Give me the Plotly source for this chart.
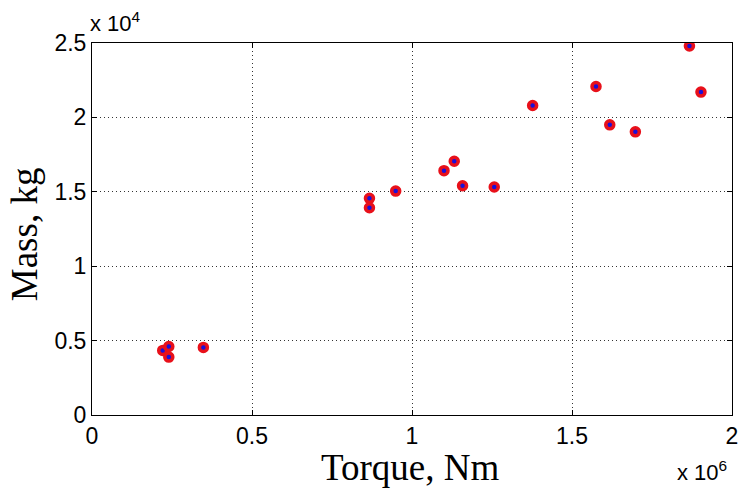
import plotly.graph_objects as go

torque_nm = [0.221e6, 0.240e6, 0.240e6, 0.348e6, 0.867e6, 0.867e6, 0.949e6,
             1.100e6, 1.132e6, 1.158e6, 1.257e6, 1.377e6, 1.575e6, 1.618e6,
             1.698e6, 1.867e6, 1.903e6]
mass_kg = [4340, 4600, 3890, 4540, 14560, 13930, 15050,
           16420, 17050, 15410, 15320, 20800, 22080, 19500,
           19030, 24800, 21700]

x_tickvals = [0, 0.5e6, 1.0e6, 1.5e6, 2.0e6]
x_ticktext = ["0", "0.5", "1", "1.5", "2"]
y_tickvals = [0, 5000, 10000, 15000, 20000, 25000]
y_ticktext = ["0", "0.5", "1", "1.5", "2", "2.5"]

fig = go.Figure()
fig.add_trace(go.Scatter(
    x=torque_nm, y=mass_kg, mode="markers",
    marker=dict(size=8, color="#1a10d8", line=dict(color="#e8101a", width=3.5)),
    showlegend=False,
))

axis_common = dict(
    showline=True, linecolor="black", linewidth=1, mirror="allticks",
    ticks="inside", ticklen=5, tickcolor="black",
    showgrid=True, gridcolor="rgba(30,30,30,0.9)", gridwidth=1, griddash="1px,3px",
    zeroline=False, automargin=False, ticklabeloverflow="allow",
    tickfont=dict(family="Liberation Sans, Arial", size=23, color="black"),
)

fig.update_xaxes(range=[0, 2.0e6], tickvals=x_tickvals, ticktext=x_ticktext, **axis_common)
fig.update_yaxes(range=[0, 25000], tickvals=y_tickvals, ticktext=y_ticktext, **axis_common)

title_font = dict(family="Liberation Serif, Times New Roman", size=37, color="black")
fig.add_annotation(xref="paper", yref="paper", x=0.497, y=0, xanchor="center", yanchor="top",
                   yshift=-30, text="Torque, Nm", showarrow=False, font=title_font)
fig.add_annotation(xref="paper", yref="paper", x=0, y=0.486, xanchor="center", yanchor="middle",
                   xshift=-68, text="Mass, kg", textangle=-90, showarrow=False, font=title_font)

fig.add_annotation(xref="paper", yref="paper", x=0, y=1.0, xanchor="left", yanchor="bottom",
                   xshift=-4, yshift=5, text="x 10<sup>4</sup>", showarrow=False,
                   font=dict(family="Liberation Sans, Arial", size=22, color="black"))
fig.add_annotation(xref="paper", yref="paper", x=0.911, y=0, xanchor="left", yanchor="top",
                   yshift=-40, text="x 10<sup>6</sup>", showarrow=False,
                   font=dict(family="Liberation Sans, Arial", size=22, color="black"))

fig.update_layout(
    width=738, height=490,
    margin=dict(l=92, r=6, t=43, b=75),
    plot_bgcolor="white", paper_bgcolor="white",
)

fig.write_html("out.html", config={"displayModeBar": False},
               post_script="document.body.style.margin='0';document.body.style.overflow='hidden';")
